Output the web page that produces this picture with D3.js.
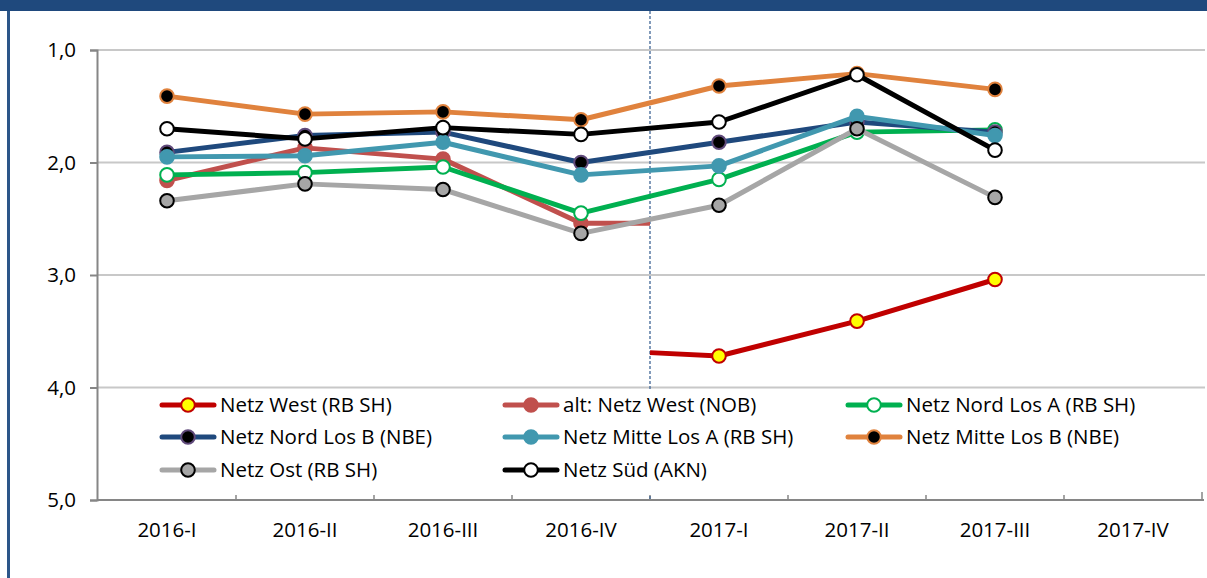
<!DOCTYPE html>
<html>
<head>
<meta charset="utf-8">
<script src="https://cdn.jsdelivr.net/npm/d3@7"></script>
<style>
  body { margin: 0; background: #fff; }
  svg { display: block; font-family: "Open Sans", sans-serif; }
</style>
</head>
<body>
<div id="chart"></div>
<script>
// quarters on the x axis
const categories = ['2016-I', '2016-II', '2016-III', '2016-IV', '2017-I', '2017-II', '2017-III', '2017-IV']
const yTicks = [1, 2, 3, 4, 5]

// school grades per network (null = no value)
const netzWest   = [null, null, null, null, 3.72, 3.41, 3.04, null]
const altNetzWest = [2.16, 1.87, 1.97, 2.54, null, null, null, null]
const nordLosA   = [2.11, 2.09, 2.04, 2.45, 2.15, 1.73, 1.71, null]
const nordLosB   = [1.91, 1.76, 1.73, 2.00, 1.82, 1.64, 1.73, null]
const mitteLosA  = [1.95, 1.94, 1.82, 2.11, 2.03, 1.59, 1.76, null]
const mitteLosB  = [1.41, 1.57, 1.55, 1.62, 1.32, 1.21, 1.35, null]
const ost        = [2.34, 2.19, 2.24, 2.63, 2.38, 1.70, 2.31, null]
const sued       = [1.70, 1.79, 1.69, 1.75, 1.64, 1.22, 1.89, null]

// values where the two West lines meet the change-over line
const netzWestStub = 3.69
const altNetzWestStub = 2.54

const series = [
  {name: 'Netz West (RB SH)', values: netzWest, line: '#C00000', fill: '#FFFF00', stroke: '#C00000', stubStart: netzWestStub},
  {name: 'alt: Netz West (NOB)', values: altNetzWest, line: '#C0504D', fill: '#C0504D', stroke: '#C0504D', stubEnd: altNetzWestStub},
  {name: 'Netz Nord Los A (RB SH)', values: nordLosA, line: '#00B050', fill: '#FFFFFF', stroke: '#00B050'},
  {name: 'Netz Nord Los B (NBE)', values: nordLosB, line: '#1F497D', fill: '#000000', stroke: '#604A7B'},
  {name: 'Netz Mitte Los A (RB SH)', values: mitteLosA, line: '#4198AF', fill: '#4198AF', stroke: '#4198AF'},
  {name: 'Netz Mitte Los B (NBE)', values: mitteLosB, line: '#E0823D', fill: '#000000', stroke: '#E0823D'},
  {name: 'Netz Ost (RB SH)', values: ost, line: '#A6A6A6', fill: '#A6A6A6', stroke: '#000000'},
  {name: 'Netz Süd (AKN)', values: sued, line: '#000000', fill: '#FFFFFF', stroke: '#000000'}
]

const width = 1207, height = 578
const svg = d3.select('#chart').append('svg')
  .attr('width', width).attr('height', height)

// header band and left frame
svg.append('rect').attr('x', 0).attr('y', 0).attr('width', width).attr('height', 11).attr('fill', '#1F497D')
svg.append('rect').attr('x', 7).attr('y', 11).attr('width', 3).attr('height', height - 11).attr('fill', '#2C5689')

const x = d3.scalePoint().domain(categories).range([98, 1202]).padding(0.5)
const y = d3.scaleLinear().domain([1, 5]).range([50, 500])
const step = x.step()
const fmt = d => d.toFixed(1).replace('.', ',')

// gridlines
svg.append('g').selectAll('line').data(yTicks.slice(0, -1)).enter().append('line')
  .attr('x1', 97).attr('x2', 1205)
  .attr('y1', d => y(d)).attr('y2', d => y(d))
  .attr('stroke', '#C8C8C8').attr('stroke-width', 2)

// y axis
const gY = svg.append('g').attr('transform', 'translate(97,0)')
  .call(d3.axisLeft(y).tickValues(yTicks).tickSize(7).tickPadding(14).tickFormat(fmt))
gY.select('.domain').attr('stroke', '#868686').attr('stroke-width', 2)
gY.selectAll('.tick line').attr('stroke', '#868686').attr('stroke-width', 2)
gY.selectAll('.tick text').attr('font-size', 20.5).attr('font-family', '"Open Sans", sans-serif').attr('fill', '#000')

// x axis: ticks between categories, pointing up
const bounds = d3.range(categories.length + 1).map(i => 98 + i * step)
const gX = svg.append('g')
gX.append('line').attr('x1', 97).attr('x2', 1204).attr('y1', 500).attr('y2', 500)
  .attr('stroke', '#868686').attr('stroke-width', 2)
gX.selectAll('.xt').data(bounds.slice(1)).enter().append('line')
  .attr('x1', d => d).attr('x2', d => d).attr('y1', 500).attr('y2', 492)
  .attr('stroke', '#868686').attr('stroke-width', 1.5)
gX.selectAll('text').data(categories).enter().append('text')
  .attr('x', d => x(d)).attr('y', 537)
  .attr('text-anchor', 'middle').attr('font-size', 20.5).attr('fill', '#000')
  .text(d => d)

// change-over line between 2016-IV and 2017-I
const xSplit = (x('2016-IV') + x('2017-I')) / 2
svg.append('line').attr('x1', xSplit).attr('x2', xSplit).attr('y1', 11).attr('y2', 500)
  .attr('stroke', '#3F6595').attr('stroke-width', 1.3).attr('stroke-dasharray', '3,2')

const line = d3.line().x(d => d[0]).y(d => d[1])

series.forEach(s => {
  const pts = []
  s.values.forEach((v, i) => { if (v != null) pts.push([x(categories[i]), y(v)]) })
  if (s.stubStart != null) pts.unshift([xSplit, y(s.stubStart)])
  if (s.stubEnd != null) pts.push([xSplit, y(s.stubEnd)])
  const g = svg.append('g')
  g.append('path').attr('d', line(pts))
    .attr('fill', 'none').attr('stroke', s.line).attr('stroke-width', 5).attr('stroke-linejoin', 'round')
  g.selectAll('circle').data(s.values.map((v, i) => [v, i]).filter(d => d[0] != null)).enter().append('circle')
    .attr('cx', d => x(categories[d[1]])).attr('cy', d => y(d[0])).attr('r', 6.8)
    .attr('fill', s.fill).attr('stroke', s.stroke).attr('stroke-width', 2)
})

// legend
svg.append('rect').attr('x', 150).attr('y', 391).attr('width', 1030).attr('height', 104).attr('fill', '#fff')
const colX = [188, 531, 874]
const rowY = [405, 437, 470]
const lg = svg.append('g').selectAll('g').data(series).enter().append('g')
  .attr('transform', (d, i) => `translate(${colX[i % 3]},${rowY[Math.floor(i / 3)]})`)
lg.append('line').attr('x1', -26).attr('x2', 26).attr('y1', 0).attr('y2', 0)
  .attr('stroke', d => d.line).attr('stroke-width', 5).attr('stroke-linecap', 'round')
lg.append('circle').attr('r', 6.8).attr('fill', d => d.fill).attr('stroke', d => d.stroke).attr('stroke-width', 2)
lg.append('text').attr('x', 32).attr('y', 7).attr('font-size', 20.5).attr('fill', '#000').text(d => d.name)
</script>
</body>
</html>
